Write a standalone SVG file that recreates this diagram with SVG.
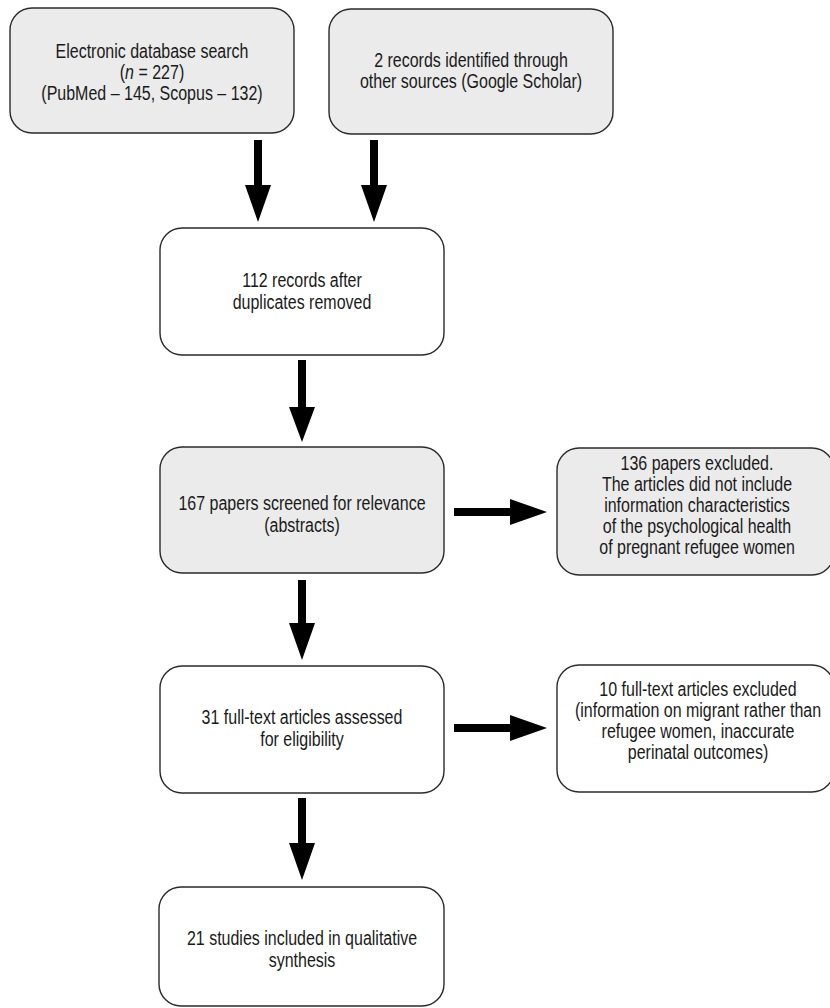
<svg xmlns="http://www.w3.org/2000/svg" width="830" height="1008" viewBox="0 0 830 1008">
<style>
.box{stroke:#2a2a2a;stroke-width:1.4}
.g{fill:#ebebeb}
.w{fill:#ffffff}
text{font-family:"Liberation Sans",Arial,sans-serif;font-size:19.5px;fill:#1a1a1a;text-anchor:middle}
.arr{fill:#000}
</style>
<rect x="0" y="0" width="830" height="1008" fill="#fff"/>
<g id="n1"><rect class="box g" x="10" y="8" width="284" height="125" rx="22"/>
<g transform="translate(152,0) scale(0.82,1)">
<text x="0" y="58">Electronic database search</text>
<text x="0" y="79">(<tspan font-style="italic">n</tspan> = 227)</text>
<text x="0" y="100">(PubMed – 145, Scopus – 132)</text></g></g>
<g id="n2"><rect class="box g" x="329" y="9" width="284" height="125" rx="22"/>
<g transform="translate(471,0) scale(0.82,1)">
<text x="0" y="67">2 records identified through</text>
<text x="0" y="88">other sources (Google Scholar)</text></g></g>
<g id="n3"><rect class="box w" x="160" y="228" width="284" height="127" rx="22"/>
<g transform="translate(302,0) scale(0.82,1)">
<text x="0" y="287">112 records after</text>
<text x="0" y="309">duplicates removed</text></g></g>
<g id="n4"><rect class="box g" x="160" y="447" width="284" height="126" rx="22"/>
<g transform="translate(302,0) scale(0.82,1)">
<text x="0" y="510">167 papers screened for relevance</text>
<text x="0" y="532">(abstracts)</text></g></g>
<g id="n5"><rect class="box g" x="557" y="448" width="277" height="127" rx="22"/>
<g transform="translate(697,0) scale(0.82,1)">
<text x="0" y="470">136 papers excluded.</text>
<text x="0" y="491">The articles did not include</text>
<text x="0" y="512">information characteristics</text>
<text x="0" y="533">of the psychological health</text>
<text x="0" y="554">of pregnant refugee women</text></g></g>
<g id="n6"><rect class="box w" x="160" y="666" width="284" height="127" rx="22"/>
<g transform="translate(302,0) scale(0.82,1)">
<text x="0" y="724">31 full-text articles assessed</text>
<text x="0" y="746">for eligibility</text></g></g>
<g id="n7"><rect class="box w" x="557" y="665" width="277" height="127" rx="22"/>
<g transform="translate(698,0) scale(0.82,1)">
<text x="0" y="696">10 full-text articles excluded</text>
<text x="0" y="717">(information on migrant rather than</text>
<text x="0" y="738">refugee women, inaccurate</text>
<text x="0" y="759">perinatal outcomes)</text></g></g>
<g id="n8"><rect class="box w" x="159" y="887" width="285" height="119" rx="22"/>
<g transform="translate(302,0) scale(0.82,1)">
<text x="0" y="945">21 studies included in qualitative</text>
<text x="0" y="967">synthesis</text></g></g>
<g id="connectors">
<path class="arr" d="M254,140 H262 V185 H271 L258,222 L245,185 H254 Z"/>
<path class="arr" d="M370,140 H378 V185 H387 L374,222 L361,185 H370 Z"/>
<path class="arr" d="M298,360 H306 V407 H315 L302,442 L289,407 H298 Z"/>
<path class="arr" d="M298,580 H306 V623 H315 L302,660 L289,623 H298 Z"/>
<path class="arr" d="M298,798 H306 V843 H315 L302,880 L289,843 H298 Z"/>
<path class="arr" d="M454,508 H510 V499 L547,512 L510,525 V516 H454 Z"/>
<path class="arr" d="M454,724 H510 V715 L547,728 L510,741 V732 H454 Z"/>
</g>
</svg>
